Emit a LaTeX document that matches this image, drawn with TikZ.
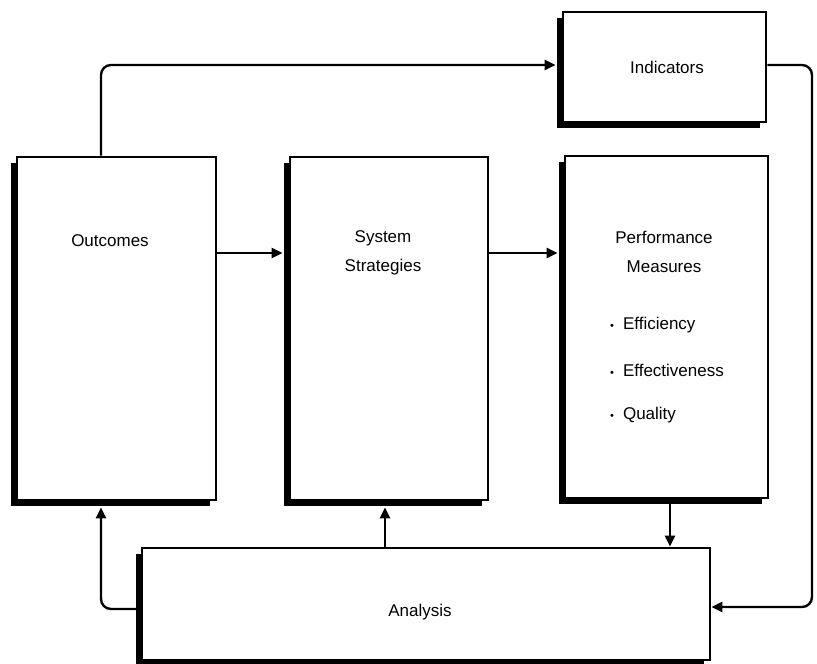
\documentclass[tikz,border=0pt]{standalone}
\usepackage{fontspec}
\setmainfont{Liberation Sans}
\usetikzlibrary{arrows.meta,shadows}
\begin{document}
\begin{tikzpicture}[x=1pt,y=-1pt,
  box/.style={draw=black,line width=2.8pt,fill=white,inner sep=0pt,
    drop shadow={shadow xshift=-6pt,shadow yshift=-6pt,fill=black,opacity=1}},
  lbl/.style={font=\fontsize{17}{29}\selectfont,align=center,inner sep=0pt},
  conn/.style={line width=2.4pt,-{Triangle[length=11pt,width=10pt]}},
]
\useasboundingbox (0,0) rectangle (817,664);
% boxes
\node[box,minimum width=199pt,minimum height=343pt] (out) at (116.5,328.5) {};
\node[box,minimum width=198pt,minimum height=343pt] (str) at (389,328.5) {};
\node[box,minimum width=203pt,minimum height=342pt] (perf) at (666.5,327) {};
\node[box,minimum width=203pt,minimum height=110pt] (ind) at (664.5,67) {};
\node[box,minimum width=568pt,minimum height=112pt] (ana) at (426,604) {};
% labels
\node[lbl] (tout) at (110,241) {Outcomes};
\node[lbl] (tstr) at (383,253) {System\\Strategies};
\node[lbl] (tperf) at (664,252) {Performance\\Measures};
\node[lbl,anchor=west] (b1) at (610,325) {\fontsize{11}{11}\selectfont•\hspace{9pt}\fontsize{17}{29}\selectfont Efficiency};
\node[lbl,anchor=west] (b2) at (610,370) {\fontsize{11}{11}\selectfont•\hspace{9pt}\fontsize{17}{29}\selectfont Effectiveness};
\node[lbl,anchor=west] (b3) at (610,415) {\fontsize{11}{11}\selectfont•\hspace{9pt}\fontsize{17}{29}\selectfont Quality};
\node[lbl] (tind) at (667,67) {Indicators};
\node[lbl] (tana) at (420,612) {Analysis};
% helper coordinates
\coordinate (xl) at (101,65);
\coordinate (yr) at (0,253);
\coordinate (xa) at (385,0);
\coordinate (xp) at (670,0);
\coordinate (yb) at (0,609);
\coordinate (xr) at (812,0);
\coordinate (yi) at (0,65);
\coordinate (ya) at (0,607);
% connectors
\draw[conn,rounded corners=10pt,shorten >=6pt] (out.north -| xl) |- (ind.west |- yi);
\draw[conn,shorten >=6pt] (out.east |- yr) -- (str.west |- yr);
\draw[conn,shorten >=6pt] (str.east |- yr) -- (perf.west |- yr);
\draw[conn] (perf.south -| xp) -- (ana.north -| xp);
\draw[conn,shorten >=6pt] (ana.north -| xa) -- (str.south -| xa);
\draw[conn,rounded corners=10pt,shorten >=6pt] (ana.west |- yb) -| (out.south -| xl);
\draw[conn,rounded corners=10pt] (ind.east |- yi) -| (xr |- ya) -- (ana.east |- ya);
\end{tikzpicture}
\end{document}
